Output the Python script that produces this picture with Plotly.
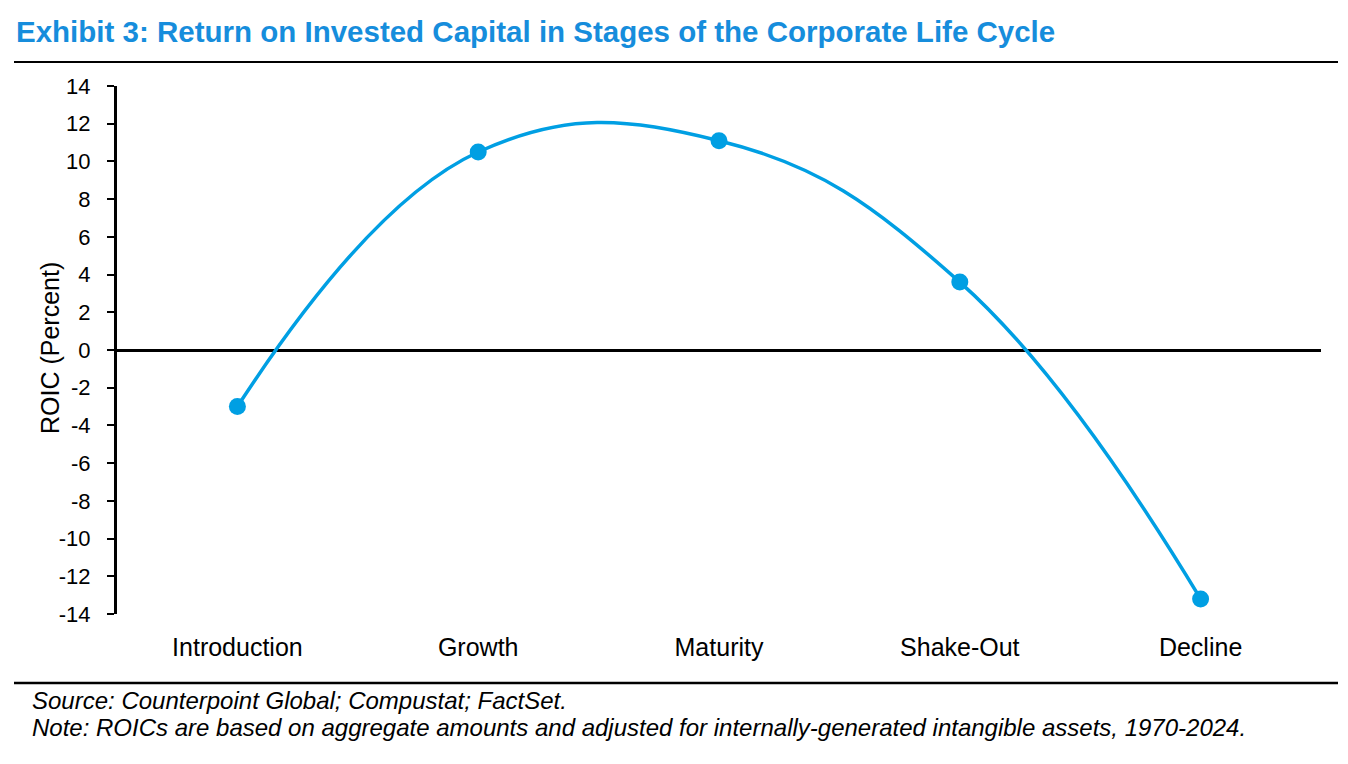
import plotly.graph_objects as go

stages = ["Introduction", "Growth", "Maturity", "Shake-Out", "Decline"]
roic = [-3.0, 10.5, 11.1, 3.6, -13.2]
y_ticks = list(range(-14, 16, 2))
y_tick_text = [str(v) for v in y_ticks]

BLUE = "#009fe3"
TITLE_BLUE = "#168ddc"
FONT = "Liberation Sans, Arial, sans-serif"

fig = go.Figure()
fig.add_trace(go.Scatter(
    x=stages, y=roic, mode="lines+markers",
    line=dict(color=BLUE, width=3.5, shape="spline", smoothing=1.2),
    marker=dict(color=BLUE, size=17),
    showlegend=False, hoverinfo="x+y",
))

fig.update_layout(
    width=1340, height=756,
    margin=dict(l=109, r=27, t=78, b=150),
    paper_bgcolor="white", plot_bgcolor="white",
    font=dict(family=FONT, color="black", size=18),
    xaxis=dict(
        range=[-0.5, 4.5], showgrid=False, showline=False, ticks="",
        tickfont=dict(size=25), ticklabelstandoff=16, zeroline=False,
    ),
    yaxis=dict(
        range=[-14, 14], tickvals=y_ticks, ticktext=y_tick_text, showgrid=False,
        showline=True, linecolor="black", linewidth=3,
        ticks="outside", ticklen=7, tickwidth=2, tickcolor="black",
        tickfont=dict(size=22), ticklabelstandoff=12,
        zeroline=True, zerolinecolor="black", zerolinewidth=3,
    ),
)

def py(p):
    return (614 - p) / 528

def px(p):
    return (p - 117) / 1204

fig.add_annotation(
    text="ROIC (Percent)", textangle=-90,
    xref="paper", yref="paper", x=px(50), y=py(348), xanchor="center", yanchor="middle",
    showarrow=False, font=dict(size=25, color="black", family=FONT),
)
fig.add_annotation(
    text="<b>Exhibit 3: Return on Invested Capital in Stages of the Corporate Life Cycle</b>",
    xref="paper", yref="paper", x=px(14), y=py(32), xanchor="left", yanchor="middle",
    showarrow=False, font=dict(size=29.5, color=TITLE_BLUE, family=FONT),
)
fig.add_annotation(
    text="<i>Source: Counterpoint Global; Compustat; FactSet.</i>",
    xref="paper", yref="paper", x=px(30), y=py(700), xanchor="left", yanchor="middle",
    showarrow=False, font=dict(size=24, color="black", family=FONT),
)
fig.add_annotation(
    text="<i>Note: ROICs are based on aggregate amounts and adjusted for internally-generated intangible assets, 1970-2024.</i>",
    xref="paper", yref="paper", x=px(30), y=py(727), xanchor="left", yanchor="middle",
    showarrow=False, font=dict(size=24, color="black", family=FONT),
)
for yy, w in ((62, 2), (683, 2.5)):
    fig.add_shape(type="line", xref="paper", yref="paper",
                  x0=px(14), x1=px(1338), y0=py(yy), y1=py(yy),
                  line=dict(color="black", width=w))

fig.write_html("out.html")
